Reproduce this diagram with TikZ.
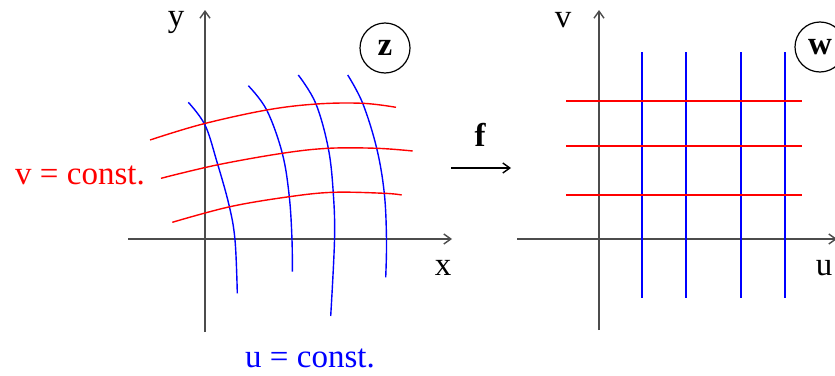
\documentclass[tikz,border=0pt]{standalone}
\usepackage{fontspec}
\setmainfont{Liberation Serif}
\usetikzlibrary{arrows.meta,positioning}

\begin{document}
\begin{tikzpicture}[x=0.5pt, y=-0.5pt,
  axis/.style={draw=black!70, line width=0.7pt, -{Straight Barb[length=3.5pt,width=5pt]}},
  ucurve/.style={draw=blue, line width=0.7pt},
  vcurve/.style={draw=red, line width=0.7pt},
  lbl/.style={font=\fontsize{16.5}{18}\selectfont, inner sep=0pt},
  plane/.style={circle, draw, line width=0.6pt, minimum size=25pt, inner sep=0pt, font=\fontsize{16.5}{18}\selectfont\bfseries},
]
\useasboundingbox (0,0) rectangle (835,375);

% z-plane axes
\coordinate (zxs) at (128,239);
\coordinate (zxe) at (452,239);
\coordinate (zys) at (205,332);
\coordinate (zye) at (205,10);
\draw[axis] (zxs) -- (zxe);
\draw[axis] (zys) -- (zye);
\node[lbl] (zy) at (176,22) {y};
\node[lbl] (zx) at (443,268) {x};
\node[plane] (zpl) at (385,48) {z};

% u = const. curves in z
\draw[ucurve] plot[smooth, tension=0.6] coordinates {(188.3,102.3) (205,125) (216.7,161) (229,205) (235,240) (237.3,293.3)};
\draw[ucurve] plot[smooth, tension=0.6] coordinates {(248.3,85.7) (266.7,110) (282.3,153.3) (289.3,196.7) (292,240) (292.3,271.7)};
\draw[ucurve] plot[smooth, tension=0.6] coordinates {(298.3,75) (315.7,103.3) (328.3,148.3) (333.3,193.3) (334.5,240) (330.7,316)};
\draw[ucurve] plot[smooth, tension=0.6] coordinates {(347.7,75) (362.7,103.3) (376.7,148.3) (384.3,193.3) (386.5,240) (385.7,277.3)};

% v = const. curves in z
\draw[vcurve] plot[smooth, tension=0.6] coordinates {(150,140) (201.7,124.3) (266.7,110) (316.7,104) (362.7,103.3) (396,107.3)};
\draw[vcurve] plot[smooth, tension=0.6] coordinates {(161,178.3) (216.7,165) (282.3,153.3) (328.3,148.3) (376.7,148.3) (412.7,151)};
\draw[vcurve] plot[smooth, tension=0.6] coordinates {(172.3,222.3) (230,206.7) (289.3,196.7) (333.3,192.3) (384.3,193.3) (401.7,195)};

\node[lbl, text=red] (vconst) at (80,175) {v = const.};
\node[lbl, text=blue] (uconst) at (310,358) {u = const.};

% the map f
\coordinate (fs) at (451,168);
\coordinate (fe) at (511,168);
\draw[axis, draw=black] (fs) -- (fe);
\node[lbl, font=\fontsize{16.5}{18}\selectfont\bfseries] (f) at (480,135) {f};

% w-plane axes
\coordinate (wxs) at (517,239);
\coordinate (wxe) at (837,239);
\coordinate (wys) at (599,330);
\coordinate (wye) at (599,10);
\draw[axis] (wxs) -- (wxe);
\draw[axis] (wys) -- (wye);
\node[lbl] (wv) at (563,20) {v};
\node[lbl] (wu) at (824,268) {u};
\node[plane] (wpl) at (820,47) {w};

% grid in w
\draw[ucurve] (642,52) -- (642,298);
\draw[ucurve] (686,52) -- (686,298);
\draw[ucurve] (741,52) -- (741,298);
\draw[ucurve] (785,52) -- (785,298);
\draw[vcurve] (566,101) -- (802,101);
\draw[vcurve] (566,146) -- (802,146);
\draw[vcurve] (566,195) -- (802,195);
\end{tikzpicture}
\end{document}
